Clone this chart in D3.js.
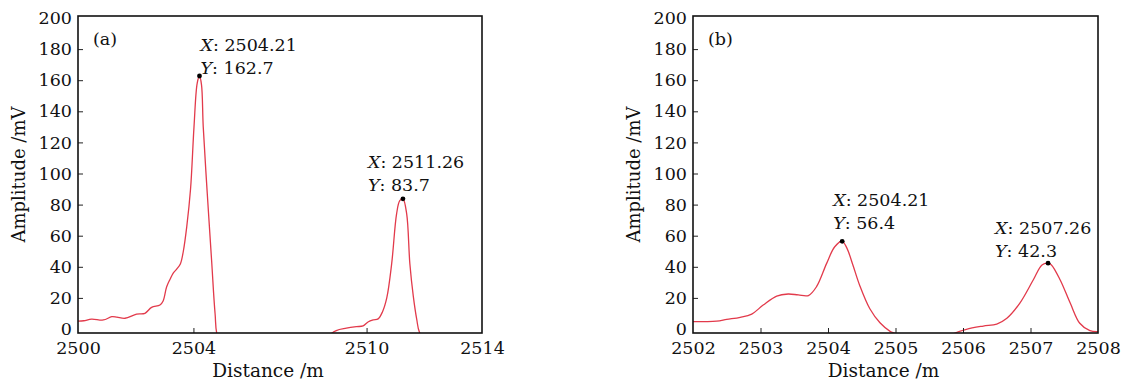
<!DOCTYPE html>
<html>
<meta charset="utf-8">
<style>
body { margin: 0; background: #fff; }
text { font-family: "DejaVu Serif", serif; fill: #111; }
.tick line { stroke: #222; stroke-width: 1; }
.tick text { font-size: 17.5px; }
</style>
<body>
<script src="https://d3js.org/d3.v7.min.js"></script>
<script>
// panel (a) signal
var distA = [2500, 2500.2, 2500.47, 2500.88, 2501.17, 2501.35, 2501.63, 2502.03, 2502.32, 2502.55, 2502.84, 2502.95,
  2503.07, 2503.19, 2503.3, 2503.42, 2503.55, 2503.65, 2503.77, 2503.9, 2504.02, 2504.13, 2504.21, 2504.28,
  2504.34, 2504.48, 2504.63, 2504.75, 2504.84, 2505.2, 2508.3, 2508.6, 2508.95, 2509.3, 2509.65, 2509.88,
  2510.05, 2510.23, 2510.4, 2510.55, 2510.7, 2510.87, 2511.04, 2511.15, 2511.26, 2511.39, 2511.5, 2511.62,
  2511.74, 2511.83, 2512.1];
var ampA = [5.1, 5.3, 6.4, 5.8, 7.9, 7.6, 6.9, 9.6, 10.1, 13.9, 15.4, 18,
  27, 32, 36, 38.5, 42, 50, 66, 90, 130, 158, 162.7, 157,
  130, 87, 44, 10, -5, -15, -15, -6, -1, 0.5, 1.5, 2,
  4.5, 5.8, 6.5, 11, 20, 42, 74, 82.5, 83.7, 74, 42, 21,
  6, -2, -10];
var ticksA = [2500, 2504, 2510, 2514];
var peaksA = [[2504.21, 162.7], [2511.26, 83.7]];

// panel (b) signal
var distB = [2502, 2502.35, 2502.5, 2502.7, 2502.87, 2503.04, 2503.24, 2503.41, 2503.56, 2503.71, 2503.83, 2503.98,
  2504.1, 2504.21, 2504.28, 2504.37, 2504.47, 2504.62, 2504.77, 2504.92, 2505.0, 2505.3, 2505.6, 2505.86,
  2506.05, 2506.3, 2506.5, 2506.65, 2506.84, 2507.04, 2507.17, 2507.26, 2507.31, 2507.44, 2507.59, 2507.73,
  2507.88, 2508];
var ampB = [4.7, 5.1, 6.2, 7.5, 9.6, 15.4, 21.2, 22.5, 21.9, 21.5, 27.2, 42.2,
  52.9, 56.4, 52, 41, 28, 13, 4, -1.5, -3, -10, -10, -3,
  -0.2, 1.9, 3.2, 6.9, 16.5, 31.5, 41.2, 42.3, 41.2, 31.5, 16.5, 3.7,
  -1.1, -1.7];
var ticksB = [2502, 2503, 2504, 2505, 2506, 2507, 2508];
var peaksB = [[2504.21, 56.4], [2507.26, 42.3]];

var yTicks = [0, 20, 40, 60, 80, 100, 120, 140, 160, 180, 200];

var W = 1128, H = 381;
var boxTop = 16, boxBottom = 333;

var svg = d3.select("body").append("svg")
    .attr("width", W)
    .attr("height", H);

var y = d3.scaleLinear().domain([0, 200]).range([329, 18]);

function panel(id, left, right, dist, amp, xTicks, peaks, labelOff, tag) {
  var x = d3.scaleLinear().domain([xTicks[0], xTicks[xTicks.length - 1]]).range([left, right]);
  var g = svg.append("g");

  svg.append("clipPath").attr("id", "clip" + id)
    .append("rect")
      .attr("x", left).attr("y", boxTop)
      .attr("width", right - left).attr("height", boxBottom - boxTop);

  // signal
  var pts = dist.map(function(d, i) { return [d, amp[i]]; });
  var line = d3.line()
      .x(function(d) { return x(d[0]); })
      .y(function(d) { return y(d[1]); })
      .curve(d3.curveCatmullRom.alpha(0.5));
  g.append("path")
      .datum(pts)
      .attr("clip-path", "url(#clip" + id + ")")
      .attr("d", line)
      .attr("fill", "none")
      .attr("stroke", "#e23a4b")
      .attr("stroke-width", 1.3);

  // axes, ticks pointing inward
  var xa = g.append("g")
      .attr("transform", "translate(0," + boxBottom + ")")
      .call(d3.axisBottom(x).tickValues(xTicks).tickSize(-5).tickPadding(9).tickFormat(d3.format("d")));
  var ya = g.append("g")
      .attr("transform", "translate(" + left + ",0)")
      .call(d3.axisLeft(y).tickValues(yTicks).tickSize(-5).tickPadding(6));
  xa.select(".domain").remove();
  ya.select(".domain").remove();
  ya.selectAll(".tick").filter(function(d) { return d === 0 || d === 200; }).select("line").remove();
  xa.selectAll(".tick").filter(function(d, i) { return i === 0 || i === xTicks.length - 1; }).select("line").remove();
  xa.selectAll(".tick text").attr("fill", "#111");
  ya.selectAll(".tick text").attr("fill", "#111");

  // box
  g.append("rect")
      .attr("x", left).attr("y", boxTop)
      .attr("width", right - left).attr("height", boxBottom - boxTop)
      .attr("fill", "none")
      .attr("stroke", "#111")
      .attr("stroke-width", 1.6);

  // axis titles
  g.append("text")
      .attr("transform", "translate(" + (left - 59) + "," + ((boxTop + boxBottom) / 2) + ") rotate(-90)")
      .attr("dy", "0.35em")
      .attr("text-anchor", "middle")
      .style("font-size", "18px")
      .text("Amplitude /mV");
  g.append("text")
      .attr("x", (left + right) / 2 - 12)
      .attr("y", 377)
      .attr("text-anchor", "middle")
      .style("font-size", "18.5px")
      .text("Distance /m");

  g.append("text")
      .attr("x", left + 15)
      .attr("y", 45)
      .style("font-size", "17.5px")
      .text(tag);

  // data tips
  peaks.forEach(function(p, i) {
    var px = x(p[0]), py = y(p[1]);
    g.append("circle")
        .attr("cx", px).attr("cy", py)
        .attr("r", 2.4)
        .attr("fill", "#000");
    var tx = px + labelOff[i][0], ty = py + labelOff[i][1];
    var t1 = g.append("text").attr("x", tx).attr("y", ty - 23).style("font-size", "17.5px");
    t1.append("tspan").style("font-style", "italic").text("X");
    t1.append("tspan").text(": " + p[0].toFixed(2));
    var t2 = g.append("text").attr("x", tx).attr("y", ty).style("font-size", "17.5px");
    t2.append("tspan").style("font-style", "italic").text("Y");
    t2.append("tspan").text(": " + p[1]);
  });
}

panel("a", 78, 482, distA, ampA, ticksA, peaksA, [[1, -2], [-35, -8]], "(a)");
panel("b", 693, 1098, distB, ampB, ticksB, peaksB, [[-9, -12], [-53, -6]], "(b)");
</script>
</body>
</html>
